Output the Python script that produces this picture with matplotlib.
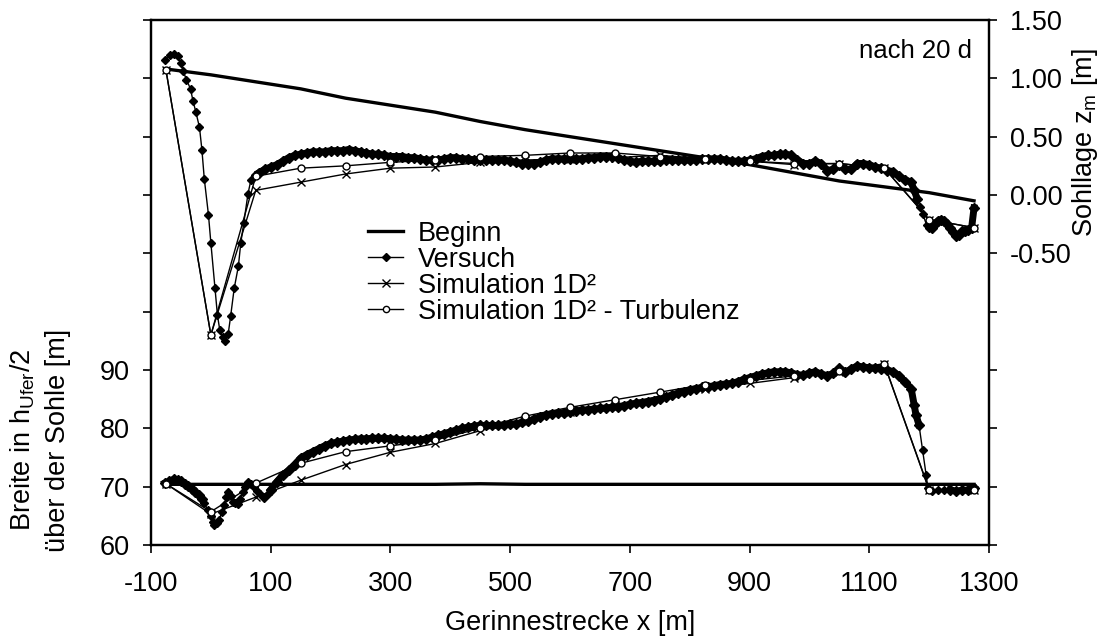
import matplotlib.pyplot as plt
from matplotlib.ticker import FixedLocator, FixedFormatter

plt.rcParams['font.family'] = ['Liberation Sans', 'DejaVu Sans']
plt.rcParams['font.size'] = 19.5
plt.rcParams['axes.unicode_minus'] = False

# Querschnitte der Simulation / Anfangszustand
x_sim = [-75, 0, 75, 150, 225, 300, 375, 450, 525, 600, 675, 750, 825, 900, 975, 1050, 1125, 1200, 1275]

# Sohllage z_m [m]
z_beginn = [1.08, 1.03, 0.97, 0.91, 0.83, 0.77, 0.71, 0.63, 0.56, 0.50, 0.44, 0.38, 0.32, 0.26, 0.19, 0.12, 0.07, 0.02, -0.05]
z_sim = [1.07, -1.20, 0.04, 0.11, 0.18, 0.23, 0.24, 0.28, 0.30, 0.31, 0.32, 0.34, 0.31, 0.29, 0.26, 0.27, 0.23, -0.21, -0.28]
z_turb = [1.07, -1.20, 0.16, 0.23, 0.25, 0.28, 0.30, 0.33, 0.34, 0.36, 0.36, 0.33, 0.31, 0.29, 0.27, 0.27, 0.23, -0.21, -0.28]

x_vers_z = [-77, -69, -61, -55, -50, -46, -41, -34, -30, -25, -19, -15, -11, -4, 0, 7, 11, 15, 20, 24, 29, 33, 39, 46, 50, 55, 62, 67, 73,
            80, 90, 100, 110, 120, 130, 140, 150, 160, 170, 180, 190, 200, 210, 220, 230, 240, 250, 260, 270, 280, 290,
            300, 310, 320, 330, 340, 350, 360, 370, 380, 390, 400, 410, 420, 430, 440, 450, 460, 470, 480, 490,
            500, 510, 520, 530, 540, 550, 560, 570, 580, 590, 600, 610, 620, 630, 640, 650, 660, 670, 680, 690,
            700, 710, 720, 730, 740, 750, 760, 770, 780, 790, 800, 810, 820, 830, 840, 850, 860, 870, 880, 890,
            900, 910, 920, 930, 940, 950, 960, 970, 980, 990, 1000, 1010, 1020, 1030, 1040, 1050, 1060, 1070, 1080, 1090,
            1100, 1110, 1120, 1130, 1140, 1150, 1160, 1170, 1175, 1180, 1185, 1189, 1196, 1200, 1205, 1210, 1215, 1220,
            1225, 1230, 1235, 1240, 1245, 1250, 1255, 1260, 1265, 1271, 1275]
z_vers = [1.16, 1.20, 1.21, 1.19, 1.13, 1.06, 0.99, 0.91, 0.81, 0.71, 0.58, 0.39, 0.14, -0.17, -0.41, -0.80, -1.03, -1.16, -1.22, -1.25, -1.19, -1.04, -0.80, -0.61, -0.41, -0.24, 0.01, 0.13, 0.17,
          0.19, 0.22, 0.24, 0.26, 0.29, 0.32, 0.34, 0.35, 0.36, 0.37, 0.37, 0.37, 0.38, 0.38, 0.38, 0.39, 0.38, 0.37, 0.36, 0.35, 0.35, 0.34,
          0.33, 0.33, 0.33, 0.32, 0.32, 0.31, 0.30, 0.30, 0.30, 0.31, 0.32, 0.32, 0.31, 0.31, 0.30, 0.30, 0.30, 0.30, 0.30, 0.30,
          0.29, 0.28, 0.27, 0.27, 0.27, 0.28, 0.30, 0.31, 0.31, 0.31, 0.31, 0.31, 0.31, 0.32, 0.32, 0.33, 0.33, 0.33, 0.32, 0.30,
          0.29, 0.28, 0.29, 0.29, 0.29, 0.29, 0.30, 0.30, 0.30, 0.30, 0.30, 0.30, 0.31, 0.31, 0.31, 0.31, 0.30, 0.29, 0.29, 0.29,
          0.30, 0.31, 0.33, 0.34, 0.34, 0.35, 0.35, 0.34, 0.30, 0.27, 0.27, 0.29, 0.27, 0.21, 0.22, 0.26, 0.22, 0.22, 0.27, 0.27,
          0.26, 0.24, 0.23, 0.21, 0.20, 0.16, 0.13, 0.11, 0.04, -0.03, -0.10, -0.16, -0.26, -0.28, -0.28, -0.25, -0.22, -0.21,
          -0.22, -0.25, -0.28, -0.32, -0.35, -0.34, -0.31, -0.31, -0.30, -0.28, -0.11]

# Breite in h_Ufer/2 ueber der Sohle [m]
b_beginn = [70.4, 70.4, 70.4, 70.4, 70.4, 70.4, 70.4, 70.5, 70.4, 70.4, 70.4, 70.4, 70.4, 70.4, 70.4, 70.4, 70.4, 70.4, 70.4]
b_sim = [70.5, 65.3, 68.2, 71.1, 73.8, 75.9, 77.4, 79.6, 81.4, 82.8, 84.0, 85.5, 86.8, 87.7, 88.7, 89.6, 91.0, 69.4, 69.4]
b_turb = [70.5, 65.7, 70.6, 74.0, 76.0, 77.0, 78.0, 80.0, 82.1, 83.6, 84.9, 86.2, 87.5, 88.2, 89.0, 89.8, 91.1, 69.5, 69.5]

x_vers_b = [-77, -70, -61, -55, -50, -44, -38, -32, -27, -20, -15, -11, -5, 0, 3, 6, 10, 14, 18, 22, 26, 29, 33, 37, 41, 45, 49, 53, 57, 62, 67, 72, 77, 82, 89, 95,
            100, 110, 120, 130, 140, 150, 160, 170, 180, 190, 200, 210, 220, 230, 240, 250, 260, 270, 280, 290,
            300, 310, 320, 330, 340, 350, 360, 370, 380, 390, 400, 410, 420, 430, 440, 450, 460, 470, 480, 490,
            500, 510, 520, 530, 540, 550, 560, 570, 580, 590, 600, 610, 620, 630, 640, 650, 660, 670, 680, 690,
            700, 710, 720, 730, 740, 750, 760, 770, 780, 790, 800, 810, 820, 830, 840, 850, 860, 870, 880, 890,
            900, 910, 920, 930, 940, 950, 960, 970, 980, 990, 1000, 1010, 1020, 1030, 1040, 1050, 1060, 1070, 1080, 1090,
            1100, 1110, 1120, 1130, 1140, 1150, 1160, 1170, 1175, 1178, 1183, 1189, 1195, 1198, 1205, 1215, 1225, 1235,
            1245, 1255, 1265, 1275]
b_vers = [70.6, 70.9, 71.3, 71.1, 70.9, 70.5, 70.1, 69.6, 69.1, 68.5, 67.9, 67.2, 66.0, 64.9, 64.0, 63.5, 63.8, 64.3, 65.6, 66.9, 68.2, 69.0, 68.4, 67.4, 67.2, 67.1, 67.9, 69.0, 70.0, 70.8, 70.5, 70.0, 69.3, 68.7, 68.1, 68.8,
          69.5, 70.8, 72.0, 72.8, 73.8, 74.9, 75.5, 76.0, 76.5, 77.0, 77.4, 77.6, 77.8, 78.0, 78.1, 78.2, 78.2, 78.3, 78.3, 78.3,
          78.2, 78.1, 78.0, 78.0, 78.0, 78.0, 78.2, 78.5, 78.8, 79.1, 79.4, 79.7, 80.0, 80.2, 80.4, 80.5, 80.5, 80.5, 80.5, 80.6,
          80.7, 80.8, 81.0, 81.2, 81.6, 82.0, 82.3, 82.5, 82.6, 82.7, 82.8, 83.0, 83.1, 83.2, 83.3, 83.4, 83.5, 83.6, 83.7, 83.9,
          84.1, 84.3, 84.4, 84.5, 84.7, 85.1, 85.4, 85.7, 86.0, 86.3, 86.6, 86.8, 87.0, 87.1, 87.3, 87.5, 87.6, 87.7, 88.0, 88.4,
          88.7, 89.0, 89.3, 89.5, 89.7, 89.7, 89.7, 89.5, 89.2, 89.1, 89.5, 89.7, 89.3, 89.0, 89.4, 90.3, 89.6, 90.2, 90.7, 90.5,
          90.4, 90.3, 90.2, 90.0, 89.7, 89.0, 88.0, 86.8, 84.0, 82.3, 80.6, 76.3, 72.0, 69.7, 69.3, 69.5, 69.4, 69.5,
          69.2, 69.4, 69.4, 69.7]

fig = plt.figure(figsize=(11.02, 6.41), dpi=100)
ax = fig.add_axes([151 / 1102, 96 / 641, 838 / 1102, 525 / 641])
ax2 = ax.twinx()

vers_style = dict(color='black', lw=1, marker='D', ms=4)
dense_style = dict(color='black', lw=5, marker='D', ms=5.5, solid_joinstyle='round')

# untere Kurven: Breite (linke Achse)
ax.plot(x_sim, b_beginn, color='black', lw=2.4)
ax.plot(x_vers_b, b_vers, **vers_style)
# dicht gemessene Abschnitte erscheinen als breites Band
for i0, i1 in [(0, 11), (36, 147), (153, 162)]:
    ax.plot(x_vers_b[i0:i1], b_vers[i0:i1], **dense_style)
ax.plot(x_sim, b_sim, color='black', lw=1, marker='x', ms=6, mew=1)
ax.plot(x_sim, b_turb, color='black', lw=1, marker='o', ms=5, mfc='white', mew=1)

# obere Kurven: Sohllage (rechte Achse)
l1, = ax2.plot(x_sim, z_beginn, color='black', lw=2.4, label='Beginn')
l2, = ax2.plot(x_vers_z, z_vers, label='Versuch', **vers_style)
for i0, i1 in [(29, 141), (145, 160)]:
    ax2.plot(x_vers_z[i0:i1], z_vers[i0:i1], **dense_style)
l3, = ax2.plot(x_sim, z_sim, color='black', lw=1, marker='x', ms=6, mew=1, label='Simulation 1D²')
l4, = ax2.plot(x_sim, z_turb, color='black', lw=1, marker='o', ms=5, mfc='white', mew=1,
               label='Simulation 1D² - Turbulenz')

ax.set_xlim(-100, 1300)
ax.set_ylim(60, 150)
ax2.set_ylim(-3.0, 1.5)

ax.set_xticks([-100, 100, 300, 500, 700, 900, 1100, 1300])
ax.yaxis.set_major_locator(FixedLocator([60, 70, 80, 90, 100, 110, 120, 130, 140, 150]))
ax.yaxis.set_major_formatter(FixedFormatter(['60', '70', '80', '90', '', '', '', '', '', '']))
ax2.yaxis.set_major_locator(FixedLocator([-3.0, -2.5, -2.0, -1.5, -1.0, -0.5, 0.0, 0.5, 1.0, 1.5]))
ax2.yaxis.set_major_formatter(FixedFormatter(['', '', '', '', '', '-0.50', '0.00', '0.50', '1.00', '1.50']))

for a in (ax, ax2):
    for s in a.spines.values():
        s.set_linewidth(1.6)
ax.tick_params(axis='both', direction='out', length=6, width=1.2)
ax.tick_params(axis='y', pad=9)
ax.tick_params(axis='x', pad=13)
ax2.tick_params(axis='y', direction='out', length=6, width=1.2, pad=9)

ax.set_xlabel('Gerinnestrecke x [m]', labelpad=9)
fig.text(23 / 1102, 1 - 440 / 641, 'Breite in h$_{\\mathregular{Ufer}}$/2',
         rotation=90, ha='center', va='center')
fig.text(58 / 1102, 1 - 440 / 641, 'über der Sohle [m]', rotation=90, ha='center', va='center')
fig.text(1085 / 1102, 1 - 143 / 641, 'Sohllage z$_{\\mathregular{m}}$ [m]', rotation=90,
         ha='center', va='center')

ax2.text(0.98, 0.94, 'nach 20 d', transform=ax2.transAxes, ha='right', va='center', fontsize=18.5)

ax2.legend(handles=[l1, l2, l3, l4], loc='upper left', bbox_to_anchor=(0.259, 0.618),
           frameon=False, borderpad=0, borderaxespad=0, labelspacing=0.0,
           handlelength=1.3, handletextpad=0.55, markerscale=0.9)

fig.savefig('out.png', dpi=100)
